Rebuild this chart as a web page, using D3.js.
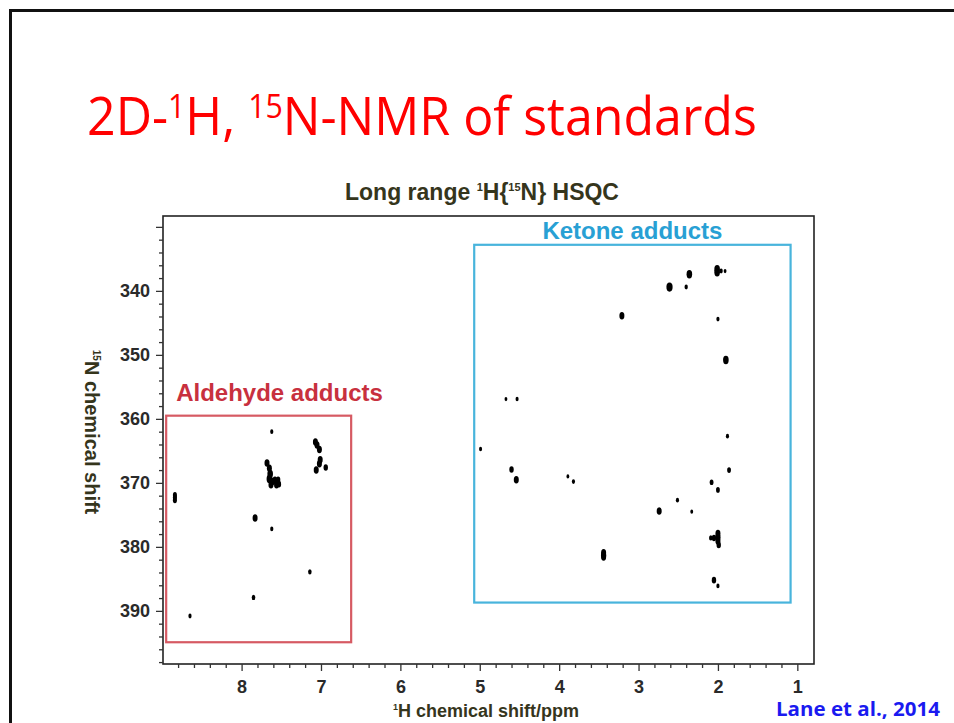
<!DOCTYPE html>
<html>
<head>
<meta charset="utf-8">
<script src="https://cdn.jsdelivr.net/npm/d3@7"></script>
<style>
  body { margin: 0; background: #fff; }
  svg { display: block; }
</style>
</head>
<body>
<svg id="chart" width="954" height="723"></svg>
<script>
// tick labels
var xTicks = [8, 7, 6, 5, 4, 3, 2, 1];
var yTicks = [330, 340, 350, 360, 370, 380, 390];
var yLabels = [340, 350, 360, 370, 380, 390];

// peaks: [1H ppm, 15N ppm, relative intensity]
var aldehydePeaks = [
  [7.62, 362.0, 1.5],
  [7.07, 363.6, 3], [7.05, 364.1, 3], [7.02, 364.8, 3],
  [7.01, 366.4, 3], [7.02, 367.0, 3], [7.06, 368.0, 3], [6.94, 367.6, 2.5],
  [7.68, 366.9, 3], [7.65, 367.7, 3], [7.64, 368.6, 3.5], [7.65, 369.4, 3.5],
  [7.62, 369.8, 3.5], [7.58, 369.6, 3], [7.54, 369.5, 2.5], [7.56, 370.3, 3],
  [7.53, 370.2, 2.5], [7.63, 370.3, 3],
  [8.84, 371.9, 2.2], [8.84, 372.3, 2.2], [8.84, 372.7, 2.2],
  [7.83, 375.5, 3],
  [7.62, 377.2, 1.5],
  [7.14, 383.9, 1.8],
  [7.85, 387.9, 1.8],
  [8.65, 390.8, 1.5]
];

var ketonePeaks = [
  [2.01, 336.6, 3.5], [2.01, 337.1, 3.5], [1.96, 336.9, 1.6], [1.91, 336.9, 1.2],
  [2.36, 337.4, 3.5],
  [2.61, 339.4, 4],
  [2.40, 339.4, 1.6],
  [3.21, 343.9, 3],
  [2.00, 344.4, 1.5],
  [1.90, 350.8, 3.5],
  [4.67, 356.9, 1.2], [4.53, 356.9, 1.4],
  [1.88, 362.7, 1.5],
  [4.99, 364.7, 1.4],
  [4.60, 367.9, 2.5],
  [4.54, 369.5, 3],
  [3.89, 369.0, 1.2], [3.82, 369.8, 1.5],
  [1.86, 368.0, 2],
  [2.08, 369.9, 2], [2.00, 371.1, 2],
  [2.51, 372.7, 1.5],
  [2.74, 374.4, 3],
  [2.33, 374.5, 1.2],
  [2.00, 377.9, 3], [2.00, 378.5, 3.2], [2.00, 379.1, 3], [1.99, 379.7, 2.5],
  [2.05, 378.6, 2.4], [2.09, 378.6, 1.8],
  [3.44, 380.9, 3], [3.44, 381.3, 3.2], [3.44, 381.6, 3],
  [2.05, 385.2, 2.5],
  [2.00, 386.1, 1.5]
];

// boxed regions: [label, 1H from, 1H to, 15N from, 15N to]
var regions = [
  ["Aldehyde adducts", 8.95, 6.62, 359.5, 394.9],
  ["Ketone adducts", 5.07, 1.085, 332.8, 388.7]
];

var regionStyle = {
  "Aldehyde adducts": { stroke: "#d65a63", text: "#c8303e", dx: 10, dy: -15, anchor: "start" },
  "Ketone adducts": { stroke: "#48b4dc", text: "#28a0d4", dx: 0, dy: -6, anchor: "middle" }
};

var svg = d3.select("#chart");
var chartFont = "'Liberation Sans', Arial, sans-serif";
var olive = "#35351c";

// slide border
svg.append("rect")
  .attr("x", 10.5).attr("y", 10.5)
  .attr("width", 1000).attr("height", 800)
  .attr("fill", "none").attr("stroke", "#111").attr("stroke-width", 3);

// text with superscripts
function supText(sel, parts, size, supSize, rise) {
  parts.forEach(function(p, i) {
    var t = sel.append("tspan").text(p[0]);
    if (p[1]) {
      t.attr("font-size", supSize).attr("dy", -rise);
    } else {
      t.attr("font-size", size);
      if (i > 0 && parts[i - 1][1]) t.attr("dy", rise);
    }
  });
  return sel;
}

var title = svg.append("text")
  .attr("x", 0).attr("y", 0)
  .attr("fill", "#ff0000")
  .style("font-family", "'Open Sans', 'Noto Sans', sans-serif");
supText(title, [["2D-", 0], ["1", 1], ["H, ", 0], ["15", 1], ["N-NMR of standards", 0]], 53, 32, 17);
var tw = title.node().getComputedTextLength();
title.attr("transform", "translate(87,135) scale(" + (670 / tw) + ",1)");

// chart title
var ct = svg.append("text")
  .attr("x", 482).attr("y", 200)
  .attr("text-anchor", "middle")
  .attr("fill", olive)
  .attr("font-weight", "bold")
  .style("font-family", chartFont);
supText(ct, [["Long range ", 0], ["1", 1], ["H{", 0], ["15", 1], ["N} HSQC", 0]], 23, 11, 9);

// scales
var x = d3.scaleLinear().domain([8.99, 0.79]).range([163, 814]);
var y = d3.scaleLinear().domain([328.3, 398.3]).range([216, 664]);
var rScale = d3.scaleLinear().domain([1, 4]).range([1.3, 3.1]);

// frame
svg.append("rect")
  .attr("x", x.range()[0]).attr("y", y.range()[0])
  .attr("width", x.range()[1] - x.range()[0])
  .attr("height", y.range()[1] - y.range()[0])
  .attr("fill", "none").attr("stroke", "#222").attr("stroke-width", 1.6);

// axes
var xMinor = d3.range(4, 45).map(function(i) { return i / 5; })
  .filter(function(v) { return Math.abs(v - Math.round(v)) > 0.01 && v < 8.95 && v > 0.85; });
var yMinor = d3.range(330, 399, 2).filter(function(v) { return v % 10 !== 0; });

function styleAxis(g) {
  g.select(".domain").remove();
  g.selectAll("line").attr("stroke", "#333").attr("stroke-width", 1.3);
  g.selectAll("text")
    .attr("fill", "#2a2a2a")
    .attr("font-weight", "bold")
    .style("font-family", chartFont)
    .style("font-size", "18px");
}

svg.append("g")
  .attr("transform", "translate(0," + y.range()[1] + ")")
  .call(d3.axisBottom(x).tickValues(xMinor).tickSize(4).tickFormat(""))
  .call(styleAxis);
svg.append("g")
  .attr("transform", "translate(0," + y.range()[1] + ")")
  .call(d3.axisBottom(x).tickValues(xTicks).tickSize(7).tickPadding(9).tickFormat(d3.format("d")))
  .call(styleAxis);

svg.append("g")
  .attr("transform", "translate(" + x.range()[0] + ",0)")
  .call(d3.axisLeft(y).tickValues(yMinor).tickSize(4).tickFormat(""))
  .call(styleAxis);
svg.append("g")
  .attr("transform", "translate(" + x.range()[0] + ",0)")
  .call(d3.axisLeft(y).tickValues(yTicks).tickSize(7).tickPadding(6)
    .tickFormat(function(d) { return yLabels.indexOf(d) >= 0 ? d : ""; }))
  .call(styleAxis);

// axis titles
var xt = svg.append("text")
  .attr("x", 486).attr("y", 717)
  .attr("text-anchor", "middle")
  .attr("fill", olive).attr("font-weight", "bold")
  .style("font-family", chartFont);
supText(xt, [["1", 1], ["H chemical shift/ppm", 0]], 18, 9, 7);

var yt = svg.append("text")
  .attr("transform", "translate(85,432) rotate(90)")
  .attr("text-anchor", "middle")
  .attr("fill", olive).attr("font-weight", "bold")
  .style("font-family", chartFont);
supText(yt, [["15", 1], ["N chemical shift", 0]], 20, 10, 8);

// region boxes
var reg = svg.append("g").selectAll("g").data(regions).enter().append("g");
reg.append("rect")
  .attr("x", function(d) { return x(d[1]); })
  .attr("y", function(d) { return y(d[3]); })
  .attr("width", function(d) { return x(d[2]) - x(d[1]); })
  .attr("height", function(d) { return y(d[4]) - y(d[3]); })
  .attr("fill", "none")
  .attr("stroke", function(d) { return regionStyle[d[0]].stroke; })
  .attr("stroke-width", 2.2);
reg.append("text")
  .attr("x", function(d) {
    var s = regionStyle[d[0]];
    return s.anchor === "middle" ? (x(d[1]) + x(d[2])) / 2 + s.dx : x(d[1]) + s.dx;
  })
  .attr("y", function(d) { return y(d[3]) + regionStyle[d[0]].dy; })
  .attr("text-anchor", function(d) { return regionStyle[d[0]].anchor; })
  .attr("fill", function(d) { return regionStyle[d[0]].text; })
  .attr("font-weight", "bold")
  .style("font-family", chartFont)
  .style("font-size", "24px")
  .text(function(d) { return d[0]; });

// peaks
svg.append("g").selectAll("ellipse")
  .data(aldehydePeaks.concat(ketonePeaks))
  .enter().append("ellipse")
  .attr("cx", function(d) { return x(d[0]); })
  .attr("cy", function(d) { return y(d[1]); })
  .attr("rx", function(d) { return rScale(d[2]); })
  .attr("ry", function(d) { return rScale(d[2]) * 1.5; })
  .attr("fill", "#000");

// citation
var cite = svg.append("text")
  .attr("x", 0).attr("y", 0)
  .attr("fill", "#1a1af0")
  .attr("font-weight", "bold")
  .style("font-family", "'Open Sans', 'Noto Sans', sans-serif")
  .style("font-size", "19px")
  .text("Lane et al., 2014");
var cw = cite.node().getComputedTextLength();
cite.attr("transform", "translate(776,716) scale(" + (164 / cw) + ",1)");
</script>
</body>
</html>
